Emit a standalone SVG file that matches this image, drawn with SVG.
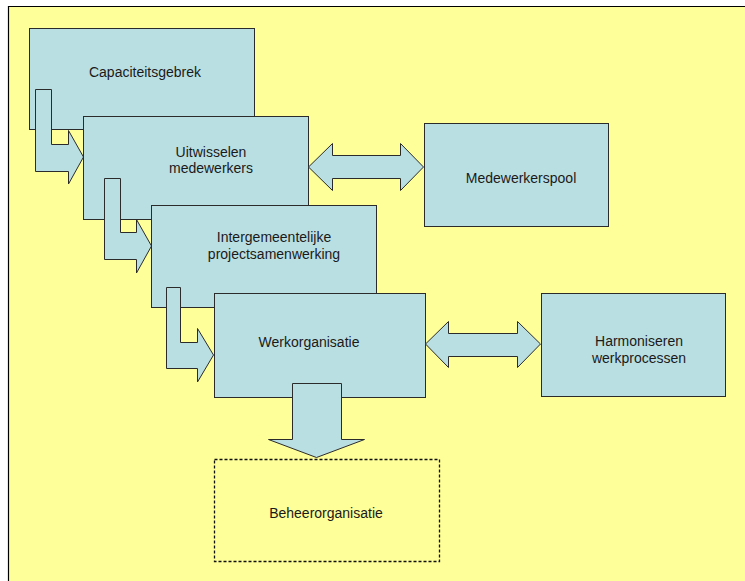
<svg xmlns="http://www.w3.org/2000/svg" width="745" height="581" viewBox="0 0 745 581">
<style>
.box{fill:#BADFE2;stroke:#2b2b2b;stroke-width:1}
.dash{fill:none;stroke:#111;stroke-width:1.3;stroke-dasharray:3 2}
.arr{fill:#BADFE2;stroke:#2b2b2b;stroke-width:1;stroke-linejoin:miter}
text{font-family:"Liberation Sans",Arial,sans-serif;font-size:14px;fill:#1a1a1a;text-anchor:middle}
</style>
<rect x="0" y="0" width="745" height="581" fill="#ffffff"/>
<rect x="8" y="6" width="737" height="575" fill="#FFFF99"/>
<path d="M8.5,581 V6.5 H745" fill="none" stroke="#000" stroke-width="1.2"/>
<g id="n-capaciteitsgebrek">
<rect class="box" x="29.5" y="28.5" width="225" height="101"/>
<text x="145" y="77">Capaciteitsgebrek</text>
</g>
<g id="connectors-a">
<polygon class="arr" points="35.5,89.5 51.5,89.5 51.5,144.5 68.5,144.5 68.5,130.5 83.5,157 68.5,184 68.5,171.5 35.5,171.5"/>
</g>
<g id="n-uitwisselen">
<rect class="box" x="83.5" y="116.5" width="225" height="103"/>
<text x="211" y="157">Uitwisselen</text>
<text x="211" y="173">medewerkers</text>
</g>
<g id="connectors-b">
<polygon class="arr" points="104.5,178.5 120.5,178.5 120.5,232.5 136.5,232.5 136.5,219.5 151.5,246 136.5,273 136.5,259.5 104.5,259.5"/>
</g>
<g id="n-intergemeentelijke">
<rect class="box" x="151.5" y="205.5" width="225" height="102"/>
<text x="274" y="242">Intergemeentelijke</text>
<text x="274" y="259">projectsamenwerking</text>
</g>
<g id="connectors-c">
<polygon class="arr" points="166.5,287.5 180.5,287.5 180.5,342.5 197.5,342.5 197.5,328.5 213.5,355 197.5,382 197.5,368.5 166.5,368.5"/>
</g>
<g id="n-werkorganisatie">
<rect class="box" x="214.5" y="293.5" width="211" height="104"/>
<text x="309" y="347">Werkorganisatie</text>
</g>
<g id="n-medewerkerspool">
<rect class="box" x="424.5" y="123.5" width="184" height="103"/>
<text x="521" y="183">Medewerkerspool</text>
</g>
<g id="n-harmoniseren">
<rect class="box" x="541.5" y="293.5" width="184" height="103"/>
<text x="639" y="346">Harmoniseren</text>
<text x="639" y="363">werkprocessen</text>
</g>
<g id="n-beheerorganisatie">
<rect class="dash" x="214.5" y="459.5" width="225" height="102"/>
<text x="326" y="518">Beheerorganisatie</text>
</g>
<g id="connectors">
<polygon class="arr" points="308.5,167 332.5,143.5 332.5,155.5 400.5,155.5 400.5,143.5 423.5,167 400.5,190.5 400.5,178.5 332.5,178.5 332.5,190.5"/>
<polygon class="arr" points="425.5,344 448.5,321.5 448.5,333.5 517.5,333.5 517.5,321.5 540.5,344 517.5,367.5 517.5,356.5 448.5,356.5 448.5,367.5"/>
<polygon class="arr" points="292.5,383.5 341.5,383.5 341.5,439.5 364.5,439.5 316.5,457.5 268.5,439.5 292.5,439.5"/>
</g>
</svg>
